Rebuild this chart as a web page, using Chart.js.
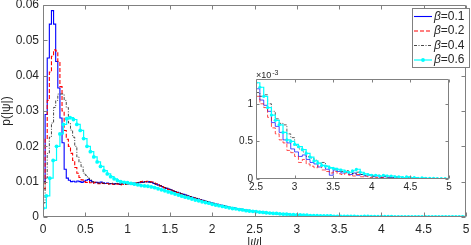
<!DOCTYPE html>
<html>
<head>
<meta charset="utf-8">
<script src="https://cdn.jsdelivr.net/npm/chart.js@4.4.1/dist/chart.umd.min.js"></script>
<style>
  html, body { margin: 0; padding: 0; background: #fff; }
  #wrap { position: relative; width: 471px; height: 245px; }
  #main { position: absolute; left: 0; top: 0; }
  #inset { position: absolute; left: 230px; top: 62px; }
</style>
</head>
<body>
<div id="wrap">
  <canvas id="main" width="471" height="245"></canvas>
  <canvas id="inset" width="230" height="135"></canvas>
</div>
<script>
// ticks and labels
const mainXTicks = [0, 0.5, 1, 1.5, 2, 2.5, 3, 3.5, 4, 4.5, 5];
const mainYTicks = [0, 0.01, 0.02, 0.03, 0.04, 0.05, 0.06];
const insetXTicks = [2.5, 3, 3.5, 4, 4.5, 5];
const insetYTicks = [0, 0.0005, 0.001];
const insetYLabels = ["0", "0.5", "1"];
const betas = ["0.1", "0.2", "0.4", "0.6"];

// histogram bins (left edges start + i*width)
const fineBin = 0.025;   // beta 0.1, 0.2, 0.4 in main plot
const cyanBin = 0.04;    // beta 0.6 in main plot
const insetStart = 2.5;
const insetBin = 0.05;

// main plot, p(|psi|) per bin
const pBeta01 = [
  0.0100, 0.0290, 0.0450, 0.0546, 0.0584, 0.0546, 0.0440, 0.0365, 0.0280, 0.0210,
  0.0135, 0.0110, 0.0104, 0.0100, 0.0101, 0.0099, 0.0102, 0.0100, 0.0098, 0.0101,
  0.0104, 0.0106, 0.0103, 0.0099, 0.0097, 0.0098, 0.0096, 0.0099, 0.0097, 0.0095,
  0.0096, 0.0094, 0.0095, 0.0093, 0.0095, 0.0094, 0.0092, 0.0094, 0.0095, 0.0093,
  0.0094, 0.0095, 0.0093, 0.0096, 0.0095, 0.0097, 0.0098, 0.0099, 0.0100, 0.0099,
  0.0100, 0.0098, 0.0095, 0.0093, 0.0091, 0.0089, 0.0086, 0.0083, 0.0081, 0.0079,
  0.0077, 0.0074, 0.0072, 0.0070, 0.0068, 0.0066, 0.0064, 0.0062, 0.0060, 0.0058,
  0.0056, 0.0054, 0.0052, 0.0051, 0.0049, 0.0047, 0.0045, 0.0044, 0.0042, 0.0040,
  0.0039, 0.0037, 0.0036, 0.0034, 0.0033, 0.0031, 0.0030, 0.0029, 0.0027, 0.0026,
  0.0025, 0.0024, 0.0023, 0.0022, 0.0021, 0.0020, 0.0019, 0.0018, 0.0017, 0.0016,
  0.0016, 0.0015, 0.0014, 0.0014, 0.0013, 0.0012, 0.0012, 0.0011, 0.0011, 0.0010,
  0.0010, 0.0009, 0.0009, 0.0008, 0.0008, 0.0008, 0.0007, 0.0007, 0.0006, 0.0006,
  6e-4, 5.5e-4, 5e-4, 5e-4, 4.5e-4, 4e-4, 4e-4, 3.5e-4, 3.5e-4, 3e-4,
  3e-4, 2.8e-4, 2.6e-4, 2.5e-4, 2.2e-4, 2.4e-4, 2e-4, 1.8e-4, 1.9e-4, 1.6e-4,
  1.5e-4, 1.6e-4, 1.4e-4, 1.3e-4, 1.1e-4, 1.3e-4, 1e-4, 1.1e-4, 9e-5, 1e-4,
  9e-5, 8e-5, 9e-5, 7e-5, 8e-5, 6e-5, 7e-5, 6e-5, 5e-5, 6e-5,
  5e-5, 4e-5, 5e-5, 4e-5, 4e-5, 3e-5, 4e-5, 3e-5, 3e-5, 3e-5,
  2e-5, 3e-5, 2e-5, 2e-5, 2e-5, 2e-5, 1e-5, 2e-5, 1e-5, 1e-5,
  1e-5, 1e-5, 1e-5, 1e-5, 1e-5, 1e-5, 1e-5, 1e-5, 1e-5, 1e-5,
  1e-5, 1e-5, 5e-6, 1e-5, 5e-6, 5e-6, 5e-6, 5e-6, 3e-6, 3e-6
];
const pBeta02 = [
  0.0080, 0.0220, 0.0330, 0.0410, 0.0455, 0.0473, 0.0470, 0.0440, 0.0369, 0.0300,
  0.0245, 0.0220, 0.0200, 0.0180, 0.0160, 0.0140, 0.0124, 0.0112, 0.0105, 0.0100,
  0.0098, 0.0100, 0.0097, 0.0095, 0.0098, 0.0096, 0.0094, 0.0097, 0.0095, 0.0094,
  0.0095, 0.0093, 0.0094, 0.0092, 0.0094, 0.0093, 0.0091, 0.0093, 0.0094, 0.0092,
  0.0093, 0.0094, 0.0095, 0.0094, 0.0096, 0.0098, 0.0100, 0.0101, 0.0100, 0.0101,
  0.0100, 0.0099, 0.0097, 0.0094, 0.0091, 0.0088, 0.0086, 0.0083, 0.0081, 0.0078,
  0.0076, 0.0074, 0.0071, 0.0069, 0.0067, 0.0065, 0.0063, 0.0061, 0.0059, 0.0057,
  0.0055, 0.0054, 0.0052, 0.0050, 0.0048, 0.0046, 0.0045, 0.0043, 0.0041, 0.0040,
  0.0038, 0.0037, 0.0035, 0.0034, 0.0032, 0.0031, 0.0029, 0.0028, 0.0027, 0.0026,
  0.0024, 0.0023, 0.0022, 0.0021, 0.0020, 0.0019, 0.0018, 0.0017, 0.0016, 0.0015,
  0.0015, 0.0014, 0.0013, 0.0013, 0.0012, 0.0011, 0.0011, 0.0010, 0.0010, 0.0009,
  9e-4, 8.5e-4, 8e-4, 7.5e-4, 7e-4, 7e-4, 6.5e-4, 6e-4, 5.5e-4, 5.5e-4,
  5e-4, 5e-4, 4.5e-4, 4e-4, 4e-4, 3.5e-4, 3.5e-4, 3e-4, 3e-4, 2.8e-4,
  2.6e-4, 2.4e-4, 2.5e-4, 2.1e-4, 2e-4, 1.8e-4, 1.9e-4, 1.6e-4, 1.5e-4, 1.4e-4,
  1.3e-4, 1.4e-4, 1.2e-4, 1.1e-4, 1e-4, 1.1e-4, 9e-5, 8e-5, 9e-5, 7e-5,
  8e-5, 7e-5, 6e-5, 7e-5, 6e-5, 5e-5, 6e-5, 5e-5, 4e-5, 5e-5,
  4e-5, 4e-5, 3e-5, 4e-5, 3e-5, 3e-5, 2e-5, 3e-5, 2e-5, 2e-5,
  2e-5, 2e-5, 2e-5, 1e-5, 2e-5, 1e-5, 1e-5, 1e-5, 1e-5, 1e-5,
  1e-5, 1e-5, 1e-5, 5e-6, 1e-5, 5e-6, 5e-6, 5e-6, 5e-6, 5e-6,
  5e-6, 5e-6, 3e-6, 3e-6, 3e-6, 3e-6, 2e-6, 2e-6, 2e-6, 2e-6
];
const pBeta04 = [
  0.0040, 0.0110, 0.0180, 0.0226, 0.0266, 0.0310, 0.0330, 0.0348, 0.0348, 0.0348,
  0.0330, 0.0310, 0.0266, 0.0246, 0.0226, 0.0200, 0.0170, 0.0155, 0.0142, 0.0124,
  0.0118, 0.0110, 0.0105, 0.0100, 0.0098, 0.0097, 0.0096, 0.0098, 0.0095, 0.0096,
  0.0095, 0.0094, 0.0096, 0.0093, 0.0094, 0.0095, 0.0093, 0.0094, 0.0093, 0.0094,
  0.0095, 0.0094, 0.0096, 0.0095, 0.0097, 0.0098, 0.0099, 0.0098, 0.0100, 0.0099,
  0.0098, 0.0097, 0.0095, 0.0093, 0.0090, 0.0088, 0.0085, 0.0083, 0.0081, 0.0079,
  0.0077, 0.0075, 0.0072, 0.0070, 0.0068, 0.0066, 0.0064, 0.0062, 0.0060, 0.0058,
  0.0056, 0.0055, 0.0053, 0.0051, 0.0049, 0.0047, 0.0046, 0.0044, 0.0042, 0.0041,
  0.0039, 0.0038, 0.0036, 0.0035, 0.0033, 0.0032, 0.0030, 0.0029, 0.0028, 0.0026,
  0.0025, 0.0024, 0.0023, 0.0022, 0.0021, 0.0020, 0.0019, 0.0018, 0.0017, 0.0016,
  0.0016, 0.0015, 0.0015, 0.0014, 0.0013, 0.0013, 0.0012, 0.0011, 0.0011, 0.0010,
  0.0010, 9.5e-4, 9e-4, 8.5e-4, 8e-4, 7.5e-4, 7.5e-4, 7e-4, 6.5e-4, 6e-4,
  6e-4, 5.5e-4, 5e-4, 5e-4, 4.5e-4, 4.5e-4, 4e-4, 3.5e-4, 3.5e-4, 3e-4,
  3e-4, 2.8e-4, 2.7e-4, 2.5e-4, 2.3e-4, 2.2e-4, 2e-4, 2e-4, 1.8e-4, 1.7e-4,
  1.6e-4, 1.5e-4, 1.5e-4, 1.3e-4, 1.2e-4, 1.2e-4, 1.1e-4, 1e-4, 1e-4, 9e-5,
  9e-5, 8e-5, 8e-5, 7e-5, 7e-5, 6e-5, 6e-5, 6e-5, 5e-5, 5e-5,
  5e-5, 4e-5, 4e-5, 4e-5, 3e-5, 3e-5, 3e-5, 3e-5, 2e-5, 3e-5,
  2e-5, 2e-5, 2e-5, 2e-5, 2e-5, 1e-5, 2e-5, 1e-5, 1e-5, 1e-5,
  1e-5, 1e-5, 1e-5, 1e-5, 1e-5, 5e-6, 1e-5, 5e-6, 5e-6, 5e-6,
  5e-6, 5e-6, 5e-6, 3e-6, 5e-6, 3e-6, 3e-6, 2e-6, 2e-6, 2e-6
];
const pBeta06 = [
  0.0025, 0.0060, 0.0110, 0.0160, 0.0200, 0.0235, 0.0262, 0.0278, 0.0281, 0.0276,
  0.0262, 0.0245, 0.0222, 0.0200, 0.0185, 0.0170, 0.0156, 0.0143, 0.0131, 0.0122,
  0.0114, 0.0108, 0.0103, 0.0100, 0.0098, 0.0097, 0.0095, 0.0093, 0.0091, 0.0089,
  0.0088, 0.0087, 0.0085, 0.0083, 0.0080, 0.0077, 0.0074, 0.0071, 0.0068, 0.0065,
  0.0062, 0.0059, 0.0056, 0.0054, 0.0051, 0.0048, 0.0046, 0.0043, 0.0041, 0.0039,
  0.0036, 0.0034, 0.0032, 0.0030, 0.0028, 0.0026, 0.0024, 0.0023, 0.0021, 0.0020,
  0.0018, 0.0017, 0.0016, 0.0015, 0.0014, 0.0013, 0.0012, 0.0011, 0.0010, 0.0010,
  9e-4, 8e-4, 8e-4, 7e-4, 7e-4, 6e-4, 6e-4, 5e-4, 5e-4, 4e-4,
  4e-4, 4e-4, 3e-4, 3e-4, 3e-4, 3e-4, 2e-4, 2e-4, 2e-4, 2e-4,
  2e-4, 1.5e-4, 1.5e-4, 1.3e-4, 1.2e-4, 1.4e-4, 1.6e-4, 1.2e-4, 1e-4, 1e-4,
  8e-5, 8e-5, 7e-5, 7e-5, 6e-5, 6e-5, 5e-5, 5e-5, 5e-5, 4e-5,
  4e-5, 4e-5, 3e-5, 3e-5, 3e-5, 3e-5, 2e-5, 2e-5, 2e-5, 2e-5,
  2e-5, 1e-5, 1e-5, 1e-5, 1e-5
];

// inset, 2.5 <= |psi| <= 5
const insetBeta01 = [
  1.20e-3, 1.05e-3, 0.98e-3, 0.90e-3, 0.75e-3, 0.70e-3, 0.62e-3, 0.52e-3, 0.48e-3, 0.40e-3,
  0.36e-3, 0.30e-3, 0.32e-3, 0.26e-3, 0.22e-3, 0.20e-3, 0.16e-3, 0.18e-3, 0.13e-3, 0.05e-3,
  0.12e-3, 0.10e-3, 0.08e-3, 0.09e-3, 0.06e-3, 0.08e-3, 0.05e-3, 0.06e-3, 0.04e-3, 0.05e-3,
  0.03e-3, 0.04e-3, 0.02e-3, 0.03e-3, 0.02e-3, 0.02e-3, 0.015e-3, 0.01e-3, 0.015e-3, 0.01e-3,
  0.01e-3, 0.008e-3, 0.006e-3, 0.005e-3, 0.004e-3, 0.003e-3, 0.003e-3, 0.002e-3, 0.002e-3, 0.001e-3
];
const insetBeta02 = [
  1.10e-3, 1.00e-3, 0.95e-3, 0.82e-3, 0.68e-3, 0.60e-3, 0.52e-3, 0.48e-3, 0.38e-3, 0.35e-3,
  0.30e-3, 0.22e-3, 0.26e-3, 0.20e-3, 0.17e-3, 0.15e-3, 0.18e-3, 0.12e-3, 0.10e-3, 0.08e-3,
  0.10e-3, 0.07e-3, 0.06e-3, 0.08e-3, 0.05e-3, 0.04e-3, 0.06e-3, 0.03e-3, 0.04e-3, 0.02e-3,
  0.03e-3, 0.02e-3, 0.02e-3, 0.01e-3, 0.02e-3, 0.01e-3, 0.01e-3, 0.008e-3, 0.01e-3, 0.006e-3,
  0.005e-3, 0.004e-3, 0.004e-3, 0.003e-3, 0.002e-3, 0.002e-3, 0.002e-3, 0.001e-3, 0.001e-3, 0.001e-3
];
const insetBeta04 = [
  1.15e-3, 1.10e-3, 1.12e-3, 1.00e-3, 0.90e-3, 0.80e-3, 0.74e-3, 0.72e-3, 0.60e-3, 0.55e-3,
  0.45e-3, 0.40e-3, 0.36e-3, 0.30e-3, 0.28e-3, 0.25e-3, 0.21e-3, 0.22e-3, 0.17e-3, 0.15e-3,
  0.13e-3, 0.12e-3, 0.10e-3, 0.11e-3, 0.08e-3, 0.07e-3, 0.09e-3, 0.06e-3, 0.05e-3, 0.06e-3,
  0.04e-3, 0.05e-3, 0.03e-3, 0.04e-3, 0.03e-3, 0.02e-3, 0.03e-3, 0.02e-3, 0.02e-3, 0.015e-3,
  0.01e-3, 0.012e-3, 0.008e-3, 0.008e-3, 0.006e-3, 0.005e-3, 0.004e-3, 0.003e-3, 0.002e-3, 0.002e-3
];
const insetBeta06 = [
  1.28e-3, 1.22e-3, 1.10e-3, 0.95e-3, 0.85e-3, 0.78e-3, 0.72e-3, 0.62e-3, 0.52e-3, 0.50e-3,
  0.46e-3, 0.43e-3, 0.39e-3, 0.34e-3, 0.29e-3, 0.24e-3, 0.21e-3, 0.18e-3, 0.17e-3, 0.15e-3,
  0.14e-3, 0.13e-3, 0.12e-3, 0.10e-3, 0.09e-3, 0.11e-3, 0.13e-3, 0.09e-3, 0.07e-3, 0.06e-3,
  0.05e-3, 0.05e-3, 0.04e-3, 0.05e-3, 0.04e-3, 0.04e-3, 0.03e-3, 0.03e-3, 0.02e-3, 0.03e-3,
  0.02e-3, 0.02e-3, 0.01e-3, 0.015e-3, 0.01e-3, 0.01e-3, 0.008e-3, 0.006e-3, 0.005e-3, 0.004e-3
];

const FONT = "'Liberation Sans', Arial, Helvetica, sans-serif";
const TEXT = "#262626";
const AXIS = "#808080";
Chart.defaults.font.family = FONT;
Chart.defaults.color = TEXT;

const seriesStyle = [
  { color: "#0000ff", width: 1.1, dash: [], marker: 0 },
  { color: "#ff0000", width: 1.1, dash: [4, 2], marker: 0 },
  { color: "#1a1a1a", width: 0.8, dash: [3, 1.5, 1, 1.5], marker: 0 },
  { color: "#00ffff", width: 1.2, dash: [], marker: 1.9 },
];

// stairs: one point per left bin edge, plus the closing right edge
function stairs(values, start, width) {
  const pts = values.map((y, i) => ({ x: start + i * width, y: y }));
  pts.push({ x: start + values.length * width, y: values[values.length - 1] });
  return pts;
}

function makeDataset(k, pts, thin) {
  const s = seriesStyle[k];
  return {
    label: "β=" + betas[k],
    data: pts,
    stepped: true,
    borderColor: s.color,
    borderWidth: thin && !s.marker ? 0.7 : s.width,
    borderDash: s.dash,
    pointRadius: s.marker ? (thin ? 1.6 : s.marker) : 0,
    pointBackgroundColor: s.color,
    pointBorderWidth: 0,
    order: 4 - k,
    fill: false,
  };
}

function framePlugin(xTicks, yTicks, tickLen, white) {
  return {
    id: "frame",
    beforeDraw(chart) {
      if (!white) return;
      const a = chart.chartArea;
      chart.ctx.save();
      chart.ctx.fillStyle = "#fff";
      chart.ctx.fillRect(a.left, a.top, a.right - a.left, a.bottom - a.top);
      chart.ctx.restore();
    },
    afterDraw(chart) {
      const { ctx, chartArea: a, scales } = chart;
      const l = Math.round(a.left) + 0.5, r = Math.round(a.right) - 0.5;
      const t = Math.round(a.top) + 0.5, b = Math.round(a.bottom) - 0.5;
      ctx.save();
      ctx.strokeStyle = AXIS;
      ctx.lineWidth = 1;
      ctx.beginPath();
      ctx.rect(l, t, r - l, b - t);
      xTicks.forEach((v) => {
        const px = Math.round(scales.x.getPixelForValue(v)) + 0.5;
        ctx.moveTo(px, b); ctx.lineTo(px, b - tickLen);
        ctx.moveTo(px, t); ctx.lineTo(px, t + tickLen);
      });
      yTicks.forEach((v) => {
        const py = Math.round(scales.y.getPixelForValue(v)) + 0.5;
        ctx.moveTo(l, py); ctx.lineTo(l + tickLen, py);
        ctx.moveTo(r, py); ctx.lineTo(r - tickLen, py);
      });
      ctx.stroke();
      ctx.restore();
    },
  };
}

const legendPlugin = {
  id: "boxLegend",
  afterDraw(chart) {
    const ctx = chart.ctx;
    const x0 = 412.5, y0 = 8.5, w = 57, h = 59;
    ctx.save();
    ctx.fillStyle = "#fff";
    ctx.fillRect(x0, y0, w, h);
    ctx.strokeStyle = AXIS;
    ctx.lineWidth = 1;
    ctx.strokeRect(x0, y0, w, h);
    chart.data.datasets.forEach((ds, k) => {
      const s = seriesStyle[k];
      const y = y0 + 8 + k * 14.5;
      ctx.strokeStyle = s.color;
      ctx.lineWidth = s.width;
      ctx.setLineDash(s.dash);
      ctx.beginPath();
      ctx.moveTo(414, y);
      ctx.lineTo(432, y);
      ctx.stroke();
      ctx.setLineDash([]);
      if (s.marker) {
        ctx.fillStyle = s.color;
        ctx.beginPath();
        ctx.arc(423, y, s.marker, 0, Math.PI * 2);
        ctx.fill();
      }
      ctx.fillStyle = TEXT;
      ctx.textBaseline = "middle";
      ctx.font = "italic 12px " + FONT;
      ctx.fillText("β", 434, y);
      const bw = ctx.measureText("β").width;
      ctx.font = "12px " + FONT;
      ctx.fillText("=" + betas[k], 434 + bw, y);
    });
    ctx.restore();
  },
};

const exponentPlugin = {
  id: "exponent",
  afterDraw(chart) {
    const ctx = chart.ctx;
    const a = chart.chartArea;
    ctx.save();
    ctx.fillStyle = TEXT;
    ctx.textBaseline = "alphabetic";
    ctx.font = "9px " + FONT;
    ctx.fillText("×10", a.left, a.top - 1);
    const w = ctx.measureText("×10").width;
    ctx.font = "7px " + FONT;
    ctx.fillText("-3", a.left + w + 1, a.top - 4);
    ctx.restore();
  },
};

function fixSize(prop, size) {
  return (s) => {
    s[prop] = size;
    s.paddingTop = 0; s.paddingBottom = 0; s.paddingLeft = 0; s.paddingRight = 0;
  };
}

function setTicks(values) {
  return (s) => { s.ticks = values.map((v) => ({ value: v })); };
}

// main chart
new Chart(document.getElementById("main"), {
  type: "line",
  data: {
    datasets: [
      makeDataset(0, stairs(pBeta01, 0, fineBin)),
      makeDataset(1, stairs(pBeta02, 0, fineBin)),
      makeDataset(2, stairs(pBeta04, 0, fineBin)),
      makeDataset(3, stairs(pBeta06, 0, cyanBin)),
    ],
  },
  options: {
    responsive: false,
    animation: false,
    layout: { padding: { top: 5, right: 5, left: 0, bottom: 0 } },
    plugins: { legend: { display: false }, tooltip: { enabled: false } },
    scales: {
      x: {
        type: "linear",
        min: 0,
        max: 5,
        afterBuildTicks: setTicks(mainXTicks),
        afterFit: fixSize("height", 28),
        grid: { display: false, drawTicks: false },
        border: { display: false },
        ticks: { padding: 5, maxRotation: 0, autoSkip: false, font: { size: 12 }, callback: (v) => String(v) },
        title: { display: true, text: "|ψ|", font: { size: 12, style: "italic" }, padding: { top: 0, bottom: -5 } },
      },
      y: {
        type: "linear",
        min: 0,
        max: 0.06,
        afterBuildTicks: setTicks(mainYTicks),
        afterFit: fixSize("width", 43),
        grid: { display: false, drawTicks: false },
        border: { display: false },
        ticks: { padding: 4, autoSkip: false, font: { size: 12 }, callback: (v) => String(v) },
        title: { display: true, text: "p(|ψ|)", font: { size: 12 }, padding: { top: -1, bottom: 0 } },
      },
    },
  },
  plugins: [framePlugin(mainXTicks, mainYTicks, 4, false), legendPlugin],
});

// inset chart
new Chart(document.getElementById("inset"), {
  type: "line",
  data: {
    datasets: [
      makeDataset(0, stairs(insetBeta01, insetStart, insetBin), true),
      makeDataset(1, stairs(insetBeta02, insetStart, insetBin), true),
      makeDataset(2, stairs(insetBeta04, insetStart, insetBin), true),
      makeDataset(3, stairs(insetBeta06, insetStart, insetBin), true),
    ],
  },
  options: {
    responsive: false,
    animation: false,
    layout: { padding: { top: 17, right: 11, left: 0, bottom: 0 } },
    plugins: { legend: { display: false }, tooltip: { enabled: false } },
    scales: {
      x: {
        type: "linear",
        min: 2.5,
        max: 5,
        afterBuildTicks: setTicks(insetXTicks),
        afterFit: fixSize("height", 18),
        grid: { display: false, drawTicks: false },
        border: { display: false },
        ticks: { padding: 2, maxRotation: 0, autoSkip: false, font: { size: 10 }, callback: (v) => String(v) },
      },
      y: {
        type: "linear",
        min: 0,
        max: 0.00133,
        afterBuildTicks: setTicks(insetYTicks),
        afterFit: fixSize("width", 26),
        grid: { display: false, drawTicks: false },
        border: { display: false },
        ticks: { padding: 3, autoSkip: false, font: { size: 10 }, callback: (v, i) => insetYLabels[i] },
      },
    },
  },
  plugins: [framePlugin(insetXTicks, insetYTicks, 3, true), exponentPlugin],
});
</script>
</body>
</html>
